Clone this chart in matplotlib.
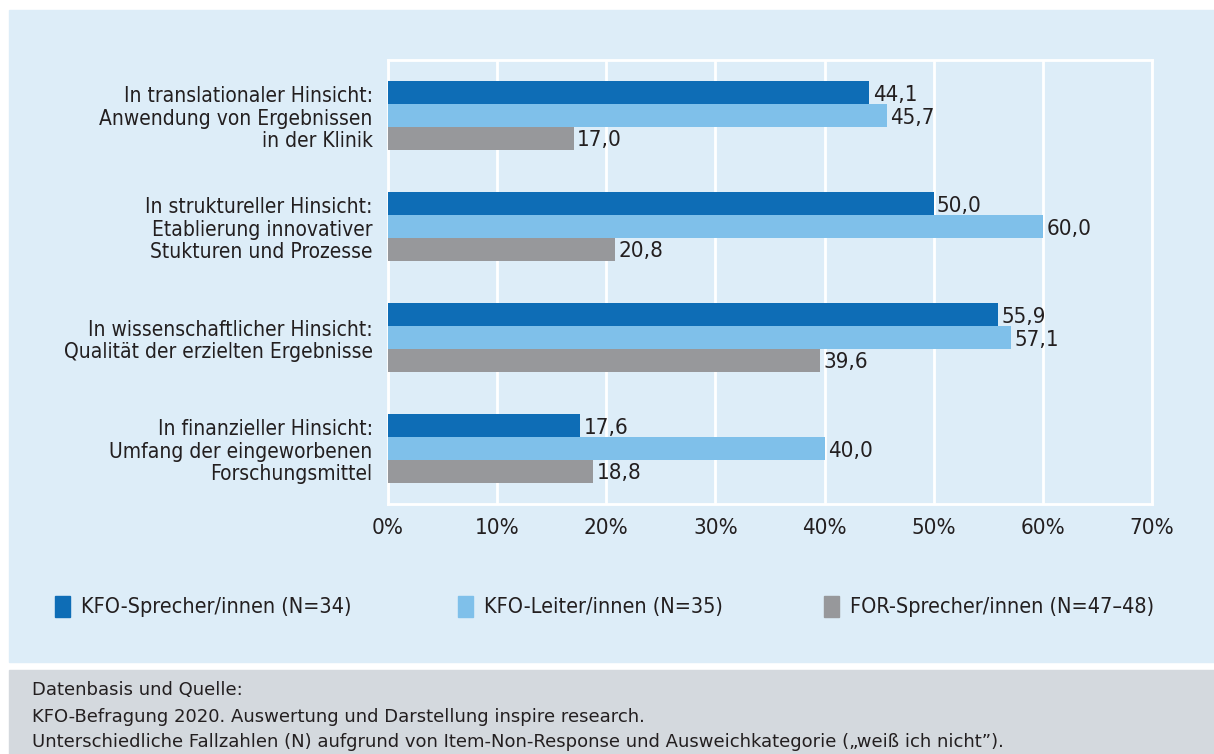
import matplotlib
matplotlib.use("Agg")
import matplotlib.pyplot as plt
from matplotlib.patches import Rectangle

categories = [
    "In translationaler Hinsicht:\nAnwendung von Ergebnissen\nin der Klinik",
    "In struktureller Hinsicht:\nEtablierung innovativer\nStukturen und Prozesse",
    "In wissenschaftlicher Hinsicht:\nQualität der erzielten Ergebnisse",
    "In finanzieller Hinsicht:\nUmfang der eingeworbenen\nForschungsmittel",
]
series_names = [
    "KFO-Sprecher/innen (N=34)",
    "KFO-Leiter/innen (N=35)",
    "FOR-Sprecher/innen (N=47\u201348)",
]
kfo_sprecher = [44.1, 50.0, 55.9, 17.6]
kfo_leiter = [45.7, 60.0, 57.1, 40.0]
for_sprecher = [17.0, 20.8, 39.6, 18.8]
x_ticks = [0, 10, 20, 30, 40, 50, 60, 70]

COLORS = ["#0e6db6", "#7fc0ea", "#97989b"]
BG = "#ddedf8"
TXT = "#231f20"

plt.rcParams["font.family"] = ["DejaVu Sans"]
plt.rcParams["font.stretch"] = "condensed"

fig = plt.figure(figsize=(12.14, 7.54), dpi=100)
fig.patch.set_facecolor("white")
# light blue panel and grey source box
fig.patches.append(Rectangle((9 / 1214, 1 - 662 / 754), 1, 652 / 754,
                             transform=fig.transFigure, color=BG, zorder=-2))
fig.patches.append(Rectangle((9 / 1214, 0), 1, 84 / 754,
                             transform=fig.transFigure, color="#d4d9de", zorder=-2))

ax = fig.add_axes([388 / 1214, 1 - 504 / 754, 764 / 1214, 444 / 754])
ax.set_zorder(2)
ax.set_facecolor(BG)

h = 0.205
series = [kfo_sprecher, kfo_leiter, for_sprecher]
for i, (vals, col) in enumerate(zip(series, COLORS)):
    ys = [g + (i - 1) * h for g in range(len(categories))]
    ax.barh(ys, vals, height=h, color=col, zorder=3)
    for y, v in zip(ys, vals):
        ax.text(v + 0.3, y + 0.02, f"{v:.1f}".replace(".", ","), va="center", ha="left",
                fontsize=16, color=TXT, zorder=4)

ax.set_ylim(len(categories) - 0.5, -0.5)
ax.set_xlim(0, 70)
ax.set_yticks(range(len(categories)))
ax.set_yticklabels(categories, fontsize=15, color=TXT, linespacing=1.15)
ax.set_xticks(x_ticks)
ax.set_xticklabels([f"{t}%" for t in x_ticks], fontsize=16, color=TXT)
ax.tick_params(axis="both", length=0)
ax.tick_params(axis="y", pad=11)
ax.tick_params(axis="x", pad=10)
ax.grid(axis="x", color="white", lw=2, zorder=1)
for s in ax.spines.values():
    s.set_color("white")
    s.set_linewidth(2)

# legend
leg_x = [55, 458, 824]
for x, name, col in zip(leg_x, series_names, COLORS):
    fig.patches.append(Rectangle((x / 1214, 1 - 617 / 754), 15 / 1214, 21 / 754,
                                 transform=fig.transFigure, color=col))
    fig.text((x + 26) / 1214, 1 - 607 / 754, name, fontsize=15.5, color=TXT, va="center")

foot = [
    "Datenbasis und Quelle:",
    "KFO-Befragung 2020. Auswertung und Darstellung inspire research.",
    "Unterschiedliche Fallzahlen (N) aufgrund von Item-Non-Response und Ausweichkategorie (\u201eweiß ich nicht\u201d).",
]
for yy, line in zip([690, 717, 742], foot):
    fig.text(32 / 1214, 1 - yy / 754, line, fontsize=13, fontstretch="normal",
             color=TXT, va="center")

fig.savefig("out.png", dpi=100)
